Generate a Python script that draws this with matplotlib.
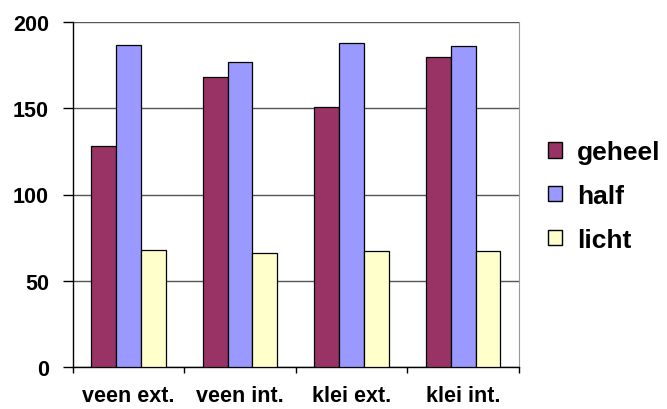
import numpy as np
import matplotlib.pyplot as plt
from matplotlib.patches import Patch

categories = ["veen ext.", "veen int.", "klei ext.", "klei int."]
series = ["geheel", "half", "licht"]
geheel = [128, 168, 151, 180]
half = [187, 177, 188, 186]
licht = [68, 66, 67, 67]
colors = ["#993366", "#9999FF", "#FFFFCC"]

plt.rcParams['font.family'] = ['Liberation Sans', 'DejaVu Sans']

fig = plt.figure(figsize=(6.67, 4.10), dpi=100)
ax = fig.add_axes([72.7/667, 1-367.7/410, (519-72.7)/667, (367.7-23.3)/410])

x = np.arange(len(categories))
w = 0.222
for i, (vals, c) in enumerate(zip([geheel, half, licht], colors)):
    ax.bar(x + (i-1)*w, vals, w, color=c, edgecolor="black", linewidth=0.9, zorder=3)

ax.set_xlim(-0.5, len(categories)-0.5)
ax.set_ylim(0, 200)
ax.set_yticks([0, 50, 100, 150, 200])
ax.yaxis.grid(True, color="#555555", linewidth=1.0, zorder=0)
ax.set_axisbelow(True)

ax.set_xticks(x)
ax.set_xticklabels(categories, fontsize=15.5, fontweight="bold")
ax.set_xticks(np.arange(-0.5, len(categories)), minor=True)
ax.tick_params(axis="x", which="major", length=0, pad=13)
ax.tick_params(axis="x", which="minor", length=4, width=1, direction="out")
ax.tick_params(axis="y", length=7, width=1, direction="out", labelsize=15.5, pad=10)
for lab in ax.get_yticklabels():
    lab.set_fontweight("bold")

for s in ["left", "bottom"]:
    ax.spines[s].set_color("black")
    ax.spines[s].set_linewidth(1.0)
ax.spines["top"].set_visible(False)
ax.spines["right"].set_color("#999999")

handles = [Patch(facecolor=c, edgecolor="black", label=s) for s, c in zip(series, colors)]
fig.legend(handles=handles, loc="center left", bbox_to_anchor=(524/667, 1-197/410),
           frameon=False, prop={"size": 19, "weight": "bold"},
           handlelength=0.53, handleheight=0.53, handletextpad=0.57, labelspacing=0.75)

plt.savefig("out.png", dpi=100)
